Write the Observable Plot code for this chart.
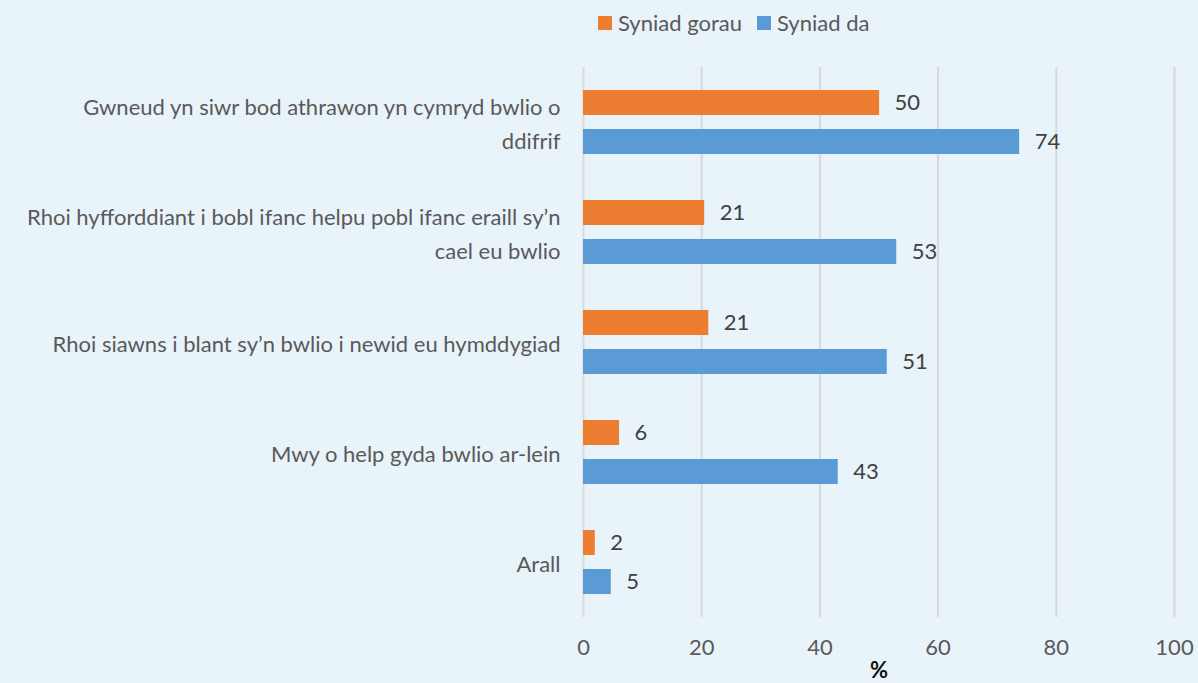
<!DOCTYPE html>
<html>
<head>
<meta charset="utf-8">
<script src="https://cdn.jsdelivr.net/npm/d3@7"></script>
<script src="https://cdn.jsdelivr.net/npm/@observablehq/plot@0.6"></script>
<style>
  html, body { margin: 0; padding: 0; background: #e9f3fa; }
  #wrap { width: 1198px; height: 683px; background: #e9f3fa; font-family: Lato, "Open Sans", sans-serif; }
  #legend { height: 45px; position: relative; }
  .item { position: absolute; top: 9px; display: flex; align-items: center; font-size: 22px; color: #595959; line-height: 28px; }
  .sw { width: 14px; height: 14px; margin-right: 6px; display: inline-block; }
</style>
</head>
<body>
<div id="wrap">
  <div id="legend"></div>
  <div id="chart"></div>
</div>
<script>
const categories = [
  "Gwneud yn siwr bod athrawon yn cymryd bwlio o\nddifrif",
  "Rhoi hyfforddiant i bobl ifanc helpu pobl ifanc eraill sy’n\ncael eu bwlio",
  "Rhoi siawns i blant sy’n bwlio i newid eu hymddygiad",
  "Mwy o help gyda bwlio ar-lein",
  "Arall"
];
const seriesNames = ["Syniad gorau", "Syniad da"];
const seriesColors = ["#ed7d31", "#5b9bd5"];
const syniadGorau = [50.1, 20.5, 21.2, 6.1, 2.0];
const syniadDa = [73.8, 53.0, 51.4, 43.1, 4.7];
const xTicks = [0, 20, 40, 60, 80, 100];

const data = [];
categories.forEach((c, i) => {
  data.push({cat: c, series: seriesNames[0], value: syniadGorau[i]});
  data.push({cat: c, series: seriesNames[1], value: syniadDa[i]});
});

// legend
const legend = document.getElementById("legend");
const legendX = [598, 757];
seriesNames.forEach((s, i) => {
  const d = document.createElement("div");
  d.className = "item";
  d.style.left = legendX[i] + "px";
  d.innerHTML = `<span class="sw" style="background:${seriesColors[i]}"></span>${s}`;
  legend.appendChild(d);
});

const plot = Plot.plot({
  width: 1198,
  height: 638,
  marginTop: 22,
  marginBottom: 66,
  marginLeft: 583,
  marginRight: 24,
  style: {background: "transparent", fontFamily: "Lato, 'Open Sans', sans-serif"},
  x: {domain: [0, 100], axis: null},
  y: {domain: seriesNames, axis: null, paddingInner: 0.36, paddingOuter: 0.56},
  fy: {domain: categories, padding: 0, axis: null},
  color: {domain: seriesNames, range: seriesColors},
  marks: [
    Plot.ruleX(xTicks, {stroke: "#d9d9d9", strokeWidth: 2}),
    Plot.barX(data, {x: "value", y: "series", fy: "cat", fill: "series"}),
    Plot.text(data, {x: "value", y: "series", fy: "cat", text: d => String(Math.round(d.value)), dx: 15, textAnchor: "start", fill: "#404040", fontSize: 22}),
    Plot.axisFy({anchor: "left", label: null, tickSize: 0, tickPadding: 23, fontSize: 22, fill: "#595959", lineHeight: 1.55, dy: -1}),
    Plot.axisX(xTicks, {anchor: "bottom", tickSize: 0, tickPadding: 22, fontSize: 22, fill: "#595959", label: null}),
    Plot.axisX({anchor: "bottom", ticks: [], label: "%", labelAnchor: "center", labelArrow: "none", labelOffset: 60, fontSize: 22, fontWeight: "bold", fill: "#111"})
  ]
});
document.getElementById("chart").appendChild(plot);
</script>
</body>
</html>
